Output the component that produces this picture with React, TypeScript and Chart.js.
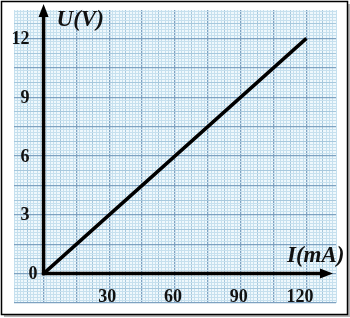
import { useEffect, useRef } from "react";
import { Chart, registerables } from "chart.js";

Chart.register(...registerables);

// ---- data ----
const currentMA = [0, 120];
const voltageV = [0, 12];
const xTickValues = [30, 60, 90, 120];
const yTickValues = [3, 6, 9, 12];
const originLabel = "0";
const xTitle = "I(mA)";
const yTitle = "U(V)";

// ---- scale setup ----
const xRange = { min: -13.5, max: 133.5 };
const yRange = { min: -1.5, max: 13.45 };
const xMinorStep = 1.5;
const xMajorStep = 15;
const yMinorStep = 0.15;
const yMajorStep = 1.5;

const PAPER = "#eff8fc";
const MINOR = "#c6e0ee";
const MEDIUM = "#a6c8dd";
const MAJOR = "#7ea2c1";

const isMult = (v: number, m: number) => {
  const q = v / m;
  return Math.abs(q - Math.round(q)) < 1e-6;
};

const gridColor = (major: number) => (ctx: any) => {
  const v = ctx.tick ? ctx.tick.value : 0;
  if (isMult(v, major)) return MAJOR;
  if (isMult(v, major / 2)) return MEDIUM;
  return MINOR;
};
const gridWidth = (major: number) => (ctx: any) => {
  const v = ctx.tick ? ctx.tick.value : 0;
  if (isMult(v, major)) return 1.3;
  return 1;
};

const paperPlugin = {
  id: "paper",
  beforeDraw(chart: any) {
    const { ctx, chartArea: a, width, height } = chart;
    ctx.save();
    ctx.fillStyle = "#ffffff";
    ctx.fillRect(0, 0, width, height);
    // shadow
    ctx.fillStyle = "#b5b5b5";
    ctx.fillRect(4, 315, width - 5, 2);
    ctx.fillRect(348, 4, 2, height - 5);
    // frame
    ctx.strokeStyle = "#000";
    ctx.lineWidth = 1.5;
    ctx.strokeRect(1.5, 1.5, 346, 313);
    // paper
    ctx.fillStyle = PAPER;
    ctx.fillRect(a.left, a.top, a.right - a.left, a.bottom - a.top);
    ctx.restore();
  },
  afterDatasetsDraw(chart: any) {
    const { ctx, chartArea: a } = chart;
    const xs = chart.scales.x;
    const ys = chart.scales.y;
    const x0 = xs.getPixelForValue(0);
    const y0 = ys.getPixelForValue(0);
    ctx.save();
    ctx.strokeStyle = "#000";
    ctx.fillStyle = "#000";
    ctx.lineWidth = 3.5;
    // y axis
    const yTip = a.top - 6;
    ctx.beginPath();
    ctx.moveTo(x0, y0 + 1.75);
    ctx.lineTo(x0, yTip + 10);
    ctx.stroke();
    ctx.beginPath();
    ctx.moveTo(x0, yTip);
    ctx.lineTo(x0 - 5, yTip + 13);
    ctx.lineTo(x0 + 5, yTip + 13);
    ctx.closePath();
    ctx.fill();
    // x axis
    const xTip = a.right - 3;
    ctx.beginPath();
    ctx.moveTo(x0 - 1.75, y0);
    ctx.lineTo(xTip - 10, y0);
    ctx.stroke();
    ctx.beginPath();
    ctx.moveTo(xTip, y0);
    ctx.lineTo(xTip - 13, y0 - 5);
    ctx.lineTo(xTip - 13, y0 + 5);
    ctx.closePath();
    ctx.fill();

    // tick labels
    ctx.font = 'bold 18px "Liberation Serif"';
    ctx.fillStyle = "#111";
    ctx.textAlign = "right";
    ctx.textBaseline = "middle";
    for (const v of yTickValues) {
      ctx.fillText(String(v), x0 - 14, ys.getPixelForValue(v) + 1);
    }
    ctx.fillText(originLabel, x0 - 6, y0 + 1);
    for (const v of xTickValues) {
      ctx.fillText(String(v), xs.getPixelForValue(v) + 7, y0 + 23.5);
    }

    // titles
    ctx.textAlign = "left";
    ctx.textBaseline = "alphabetic";
    ctx.font = 'italic bold 23px "Liberation Serif"';
    ctx.fillText(yTitle, x0 + 13, 26);
    ctx.fillText(xTitle, 287, y0 - 12);
    ctx.restore();
  },
};

export default function App() {
  const ref = useRef<HTMLCanvasElement | null>(null);
  useEffect(() => {
    if (!ref.current) return;
    const chart = new Chart(ref.current, {
      type: "scatter",
      data: {
        datasets: [
          {
            data: currentMA.map((v, i) => ({ x: v, y: voltageV[i] })),
            showLine: true,
            borderColor: "#000",
            borderWidth: 3.5,
            pointRadius: 0,
            fill: false,
          },
        ],
      },
      options: {
        animation: false,
        responsive: false,
        events: [],
        layout: { padding: { left: 14, right: 14, top: 10, bottom: 15 } },
        plugins: { legend: { display: false }, tooltip: { enabled: false } },
        scales: {
          x: {
            type: "linear",
            min: xRange.min,
            max: xRange.max,
            border: { display: false },
            ticks: { display: false, stepSize: xMinorStep, includeBounds: false },
            grid: {
              drawTicks: false,
              color: gridColor(xMajorStep),
              lineWidth: gridWidth(xMajorStep),
            },
            afterFit: (s: any) => {
              s.height = 0;
            },
          },
          y: {
            type: "linear",
            min: yRange.min,
            max: yRange.max,
            border: { display: false },
            ticks: { display: false, stepSize: yMinorStep, includeBounds: false },
            grid: {
              drawTicks: false,
              color: gridColor(yMajorStep),
              lineWidth: gridWidth(yMajorStep),
            },
            afterFit: (s: any) => {
              s.width = 0;
            },
          },
        },
      } as any,
      plugins: [paperPlugin],
    });
    return () => chart.destroy();
  }, []);
  return (
    <div style={{ position: "fixed", left: 0, top: 0, width: 350, height: 318 }}>
      <canvas ref={ref} width={350} height={318} style={{ display: "block" }} />
    </div>
  );
}
